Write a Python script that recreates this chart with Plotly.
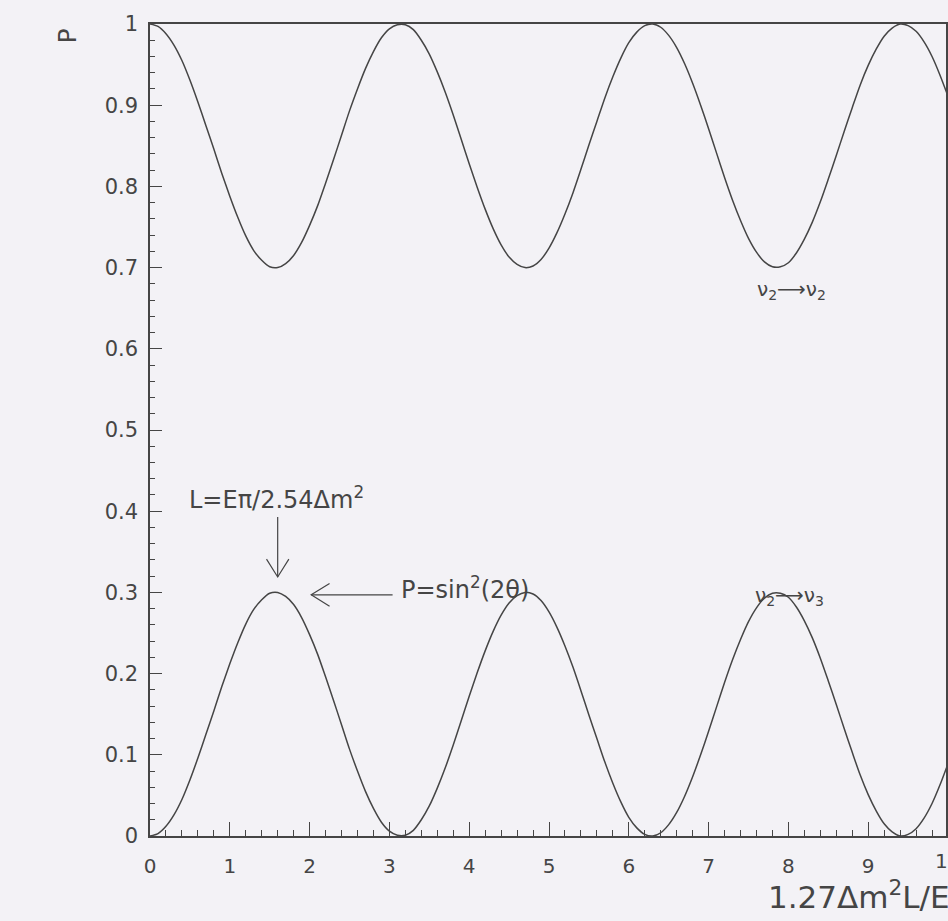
import plotly.graph_objects as go

# Oscillation parameter 1.27*dm^2*L/E, sampled every 0.1
x_vals = [round(0.1 * i, 1) for i in range(101)]

# Appearance probability nu2 -> nu3
p_appear = [
    0.000, 0.003, 0.012, 0.026, 0.045, 0.069, 0.096, 0.125, 0.154, 0.184,
    0.212, 0.238, 0.261, 0.279, 0.291, 0.299, 0.300, 0.295, 0.285, 0.269,
    0.248, 0.224, 0.196, 0.167, 0.137, 0.107, 0.080, 0.055, 0.034, 0.017,
    0.006, 0.001, 0.001, 0.007, 0.020, 0.037, 0.059, 0.084, 0.112, 0.142,
    0.172, 0.201, 0.228, 0.252, 0.272, 0.287, 0.296, 0.300, 0.298, 0.290,
    0.276, 0.257, 0.234, 0.208, 0.179, 0.149, 0.120, 0.091, 0.065, 0.042,
    0.023, 0.010, 0.002, 0.000, 0.004, 0.014, 0.029, 0.049, 0.073, 0.100,
    0.129, 0.159, 0.189, 0.217, 0.242, 0.264, 0.281, 0.293, 0.299, 0.299,
    0.294, 0.282, 0.265, 0.244, 0.219, 0.191, 0.162, 0.132, 0.103, 0.075,
    0.051, 0.031, 0.015, 0.005, 0.000, 0.002, 0.009, 0.022, 0.040, 0.063,
    0.089,
]

# Survival probability nu2 -> nu2
p_survive = [
    1.000, 0.997, 0.988, 0.974, 0.955, 0.931, 0.904, 0.875, 0.846, 0.816,
    0.788, 0.762, 0.739, 0.721, 0.709, 0.701, 0.700, 0.705, 0.715, 0.731,
    0.752, 0.776, 0.804, 0.833, 0.863, 0.893, 0.920, 0.945, 0.966, 0.983,
    0.994, 0.999, 0.999, 0.993, 0.980, 0.963, 0.941, 0.916, 0.888, 0.858,
    0.828, 0.799, 0.772, 0.748, 0.728, 0.713, 0.704, 0.700, 0.702, 0.710,
    0.724, 0.743, 0.766, 0.792, 0.821, 0.851, 0.880, 0.909, 0.935, 0.958,
    0.977, 0.990, 0.998, 1.000, 0.996, 0.986, 0.971, 0.951, 0.927, 0.900,
    0.871, 0.841, 0.811, 0.783, 0.758, 0.736, 0.719, 0.707, 0.701, 0.701,
    0.706, 0.718, 0.735, 0.756, 0.781, 0.809, 0.838, 0.868, 0.897, 0.925,
    0.949, 0.969, 0.985, 0.995, 1.000, 0.998, 0.991, 0.978, 0.960, 0.937,
    0.911,
]

x_ticks = [0, 1, 2, 3, 4, 5, 6, 7, 8, 9]
y_ticks = [0, 0.1, 0.2, 0.3, 0.4, 0.5, 0.6, 0.7, 0.8, 0.9, 1]
y_tick_text = ["0", "0.1", "0.2", "0.3", "0.4", "0.5", "0.6", "0.7", "0.8", "0.9", "1"]

INK = "#454545"
BG = "#f3f2f6"
FONT = "DejaVu Sans, sans-serif"

fig = go.Figure()
# survival curve on the framed axis, appearance curve on the labelled overlay axis
fig.add_trace(go.Scatter(x=x_vals, y=p_survive, mode="lines",
                         line=dict(color=INK, width=1.5, shape="spline", smoothing=0.8),
                         showlegend=False, hoverinfo="skip"))
fig.add_trace(go.Scatter(x=x_vals, y=p_appear, mode="lines", xaxis="x2",
                         line=dict(color=INK, width=1.5, shape="spline", smoothing=0.8),
                         showlegend=False, hoverinfo="skip"))

X_MAX = 9.975

# Primary x axis: frame line and inward ticks only
fig.update_xaxes(range=[0, X_MAX], tickvals=x_ticks, showticklabels=False,
                 ticks="inside", ticklen=14, tickwidth=1, tickcolor=INK,
                 minor=dict(dtick=0.2, ticks="inside", ticklen=6, tickcolor=INK, tickwidth=1),
                 showline=True, linecolor=INK, linewidth=1.5, mirror=True,
                 showgrid=False, zeroline=False)
# Overlaid x axis carrying the tick labels, pushed down by invisible outward ticks
fig.update_layout(xaxis2=dict(overlaying="x", anchor="y", side="bottom",
                              range=[0, X_MAX], tickvals=x_ticks,
                              ticktext=[str(t) for t in x_ticks],
                              ticks="outside", ticklen=12, tickcolor="rgba(0,0,0,0)",
                              showline=False, showgrid=False, zeroline=False,
                              tickfont=dict(family=FONT, size=20, color=INK)))
fig.update_yaxes(range=[0, 1], tickvals=y_ticks, ticktext=y_tick_text,
                 ticks="inside", ticklen=12, tickwidth=1, tickcolor=INK,
                 minor=dict(dtick=0.02, ticks="inside", ticklen=5, tickcolor=INK, tickwidth=1),
                 showline=True, linecolor=INK, linewidth=1.5, mirror=True,
                 showgrid=False, zeroline=False, ticklabelstandoff=6,
                 tickfont=dict(family=FONT, size=21, color=INK))

annotations = [
    # "10" tick label sitting at the right edge
    dict(x=10 / X_MAX, y=0, xref="paper", yref="paper", text="10", showarrow=False,
         xanchor="center", yanchor="middle", yshift=-25,
         font=dict(family=FONT, size=20, color=INK)),
    # axis titles
    dict(x=0.774, y=-0.0727, xref="paper", yref="paper", text="1.27Δm<sup>2</sup>L/E",
         showarrow=False, xanchor="left", yanchor="middle",
         font=dict(family=FONT, size=31, color=INK)),
    dict(x=-0.104, y=0.985, xref="paper", yref="paper", text="P", textangle=-90,
         showarrow=False, xanchor="center", yanchor="middle",
         font=dict(family=FONT, size=25, color=INK)),
    # curve labels
    dict(x=8.04, y=0.672, text="ν<sub>2</sub>⟶ν<sub>2</sub>", showarrow=False,
         font=dict(family=FONT, size=20, color=INK)),
    dict(x=8.02, y=0.296, text="ν<sub>2</sub>⟶ν<sub>3</sub>", showarrow=False,
         font=dict(family=FONT, size=20, color=INK)),
    # explanatory notes
    dict(x=0.46, y=0.416, text="L=Eπ/2.54Δm<sup>2</sup>", showarrow=False,
         xanchor="left", yanchor="middle", font=dict(family=FONT, size=24, color=INK)),
    dict(x=3.12, y=0.305, text="P=sin<sup>2</sup>(2θ)", showarrow=False,
         xanchor="left", yanchor="middle", font=dict(family=FONT, size=24, color=INK)),
]
fig.update_layout(annotations=annotations)

# Open-headed arrows pointing at the first maximum
arrow_line = dict(color=INK, width=1.2)
shapes = [
    dict(type="line", x0=1.6, y0=0.393, x1=1.6, y1=0.319, xref="x", yref="y", line=arrow_line),
    dict(type="path", path="M 1.46,0.341 L 1.6,0.319 L 1.74,0.341",
         xref="x", yref="y", line=arrow_line),
    dict(type="line", x0=3.04, y0=0.297, x1=2.02, y1=0.297, xref="x", yref="y", line=arrow_line),
    dict(type="path", path="M 2.25,0.311 L 2.02,0.297 L 2.25,0.283",
         xref="x", yref="y", line=arrow_line),
]
fig.update_layout(shapes=shapes)

fig.update_layout(width=948, height=921,
                  margin=dict(l=150, r=0, t=24, b=85),
                  paper_bgcolor=BG, plot_bgcolor=BG)

fig.write_html("out.html")
